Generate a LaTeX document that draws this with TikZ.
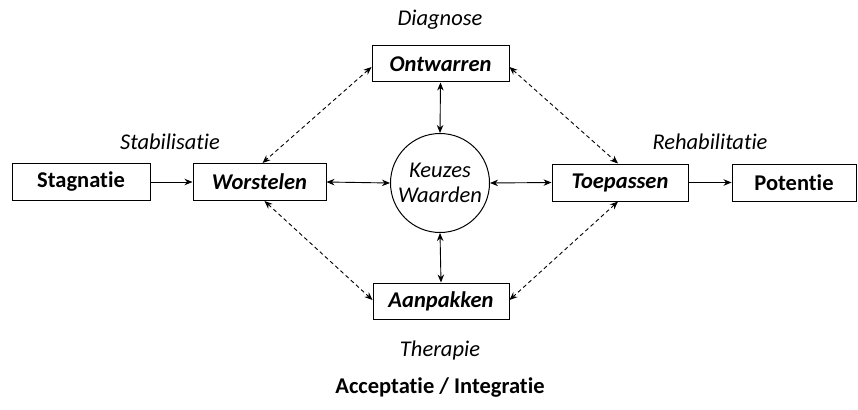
\documentclass[tikz,border=0pt]{standalone}
\usepackage{fontspec}
\setmainfont[Ligatures={NoCommon}]{Carlito}
\usetikzlibrary{arrows.meta,calc}
\begin{document}
\begin{tikzpicture}[x=1pt,y=-1pt,
  fs/.style={font=\fontsize{22.5}{26}\selectfont},
  box/.style={draw, line width=1pt, rectangle, minimum height=37pt, inner sep=0pt},
  conn/.style={line width=0.9pt, -{Stealth[length=8pt,width=6.5pt]}},
  both/.style={line width=0.9pt, {Stealth[length=8pt,width=6.5pt]}-{Stealth[length=8pt,width=6.5pt]}},
  dsh/.style={both, dash pattern=on 4pt off 3pt},
  lbl/.style={font=\fontsize{22.5}{26}\selectfont\itshape}]
\useasboundingbox (0,0) rectangle (858,409);
\node[box, minimum width=138pt, font=\fontsize{22.5}{26}\selectfont\bfseries] (s) at (81,182) {Stagnatie};
\node[box, minimum width=133pt, font=\fontsize{22.5}{26}\selectfont\bfseries\itshape] (w) at (259.5,182) {Worstelen};
\node[box, minimum width=136pt, font=\fontsize{22.5}{26}\selectfont\bfseries\itshape] (t) at (620,182.5) {Toepassen};
\node[box, minimum width=124pt, font=\fontsize{22.5}{26}\selectfont\bfseries] (p) at (794,182.5) {Potentie};
\node[box, minimum width=137pt, minimum height=36pt, font=\fontsize{22.5}{26}\selectfont\bfseries\itshape] (o) at (440.5,64) {Ontwarren};
\node[box, minimum width=136pt, minimum height=36pt, font=\fontsize{22.5}{26}\selectfont\bfseries\itshape] (a) at (441,301) {Aanpakken};
\node[draw, circle, line width=1pt, minimum size=99pt, inner sep=0pt, align=center, font=\fontsize{22.5}{25}\selectfont\itshape] (c) at (440,183) {Keuzes\\Waarden};
\node[lbl] (l1) at (440,20) {Diagnose};
\node[lbl] (l2) at (170,142) {Stabilisatie};
\node[lbl] (l3) at (710,142) {Rehabilitatie};
\node[lbl] (l4) at (440,350) {Therapie};
\node[font=\fontsize{22.5}{26}\selectfont\bfseries] (l5) at (440,388) {Acceptatie / Integratie};
\draw[conn] (s) -- (w);
\draw[conn] (t) -- (p);
\draw[both] (w.east) -- (c.west);
\draw[both] (c.east) -- (t.west);
\draw[both] (o.south) -- (c.north);
\draw[both] (c.south) -- (a.north);
\draw[dsh] ($(o.west)+(0,3)$) -- ($(w.north)+(3,0)$);
\draw[dsh] ($(o.east)+(0,3)$) -- ($(t.north)+(-2,0)$);
\draw[dsh] ($(w.south)+(5,0)$) -- ($(a.west)+(0,-1)$);
\draw[dsh] ($(t.south)+(-2,0)$) -- ($(a.east)+(0,-1)$);
\end{tikzpicture}
\end{document}
